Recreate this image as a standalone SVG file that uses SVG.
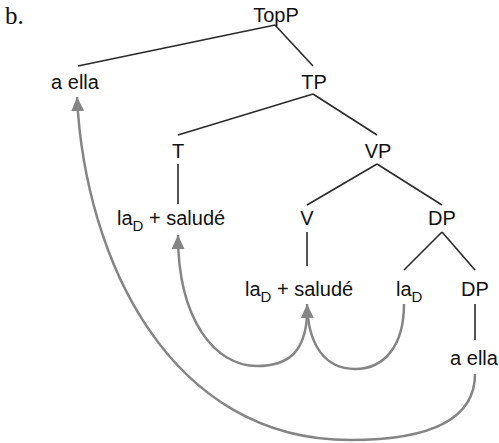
<svg xmlns="http://www.w3.org/2000/svg" width="499" height="443" viewBox="0 0 499 443">
<style>
text{font-family:"Liberation Sans",Arial,sans-serif;font-size:20px;fill:#111}
.sub{font-size:15px}
.b{font-family:"Liberation Serif","Times New Roman",serif;font-size:25px}
.edge{stroke:#2a2a2a;stroke-width:1.6;fill:none}
.move{stroke:#858585;stroke-width:2.5;fill:none;marker-end:url(#ah)}
</style>
<defs>
<marker id="ah" markerUnits="userSpaceOnUse" markerWidth="16" markerHeight="14" refX="14" refY="6.5" orient="auto">
<path d="M0,0 L14,6.5 L0,13 z" fill="#858585"/>
</marker>
</defs>
<rect width="499" height="443" fill="#fff"/>
<text class="b" x="5" y="24">b.</text>
<g id="connectors">
<line class="edge" x1="275" y1="25" x2="78" y2="66"/>
<line class="edge" x1="275" y1="25" x2="313" y2="66"/>
<line class="edge" x1="313" y1="94" x2="178" y2="135"/>
<line class="edge" x1="313" y1="94" x2="377" y2="135"/>
<line class="edge" x1="178" y1="164" x2="178" y2="204"/>
<line class="edge" x1="377" y1="164" x2="307" y2="205"/>
<line class="edge" x1="377" y1="164" x2="442" y2="205"/>
<line class="edge" x1="307" y1="232" x2="307" y2="266"/>
<line class="edge" x1="442" y1="232" x2="404" y2="270"/>
<line class="edge" x1="442" y1="232" x2="475" y2="270"/>
<line class="edge" x1="475" y1="304" x2="475" y2="340"/>
<path class="move" d="M475,374 C475,415 440,440 350,440 C170,440 85,260 77,97"/>
<path class="move" d="M307,316 C305,350 290,366 257,366 C215,366 178,320 178,235"/>
<path class="move" d="M404,304 C404,345 385,369 355,369 C325,369 308,345 307,304"/>
</g>
<g id="TopP"><text x="276" y="22" text-anchor="middle">TopP</text></g>
<g id="aella1"><text x="75" y="89" text-anchor="middle">a ella</text></g>
<g id="TP"><text x="314" y="89" text-anchor="middle">TP</text></g>
<g id="T"><text x="178" y="158" text-anchor="middle">T</text></g>
<g id="VP"><text x="378" y="158" text-anchor="middle">VP</text></g>
<g id="laSalude1"><text x="117" y="225">la<tspan class="sub" dy="6">D</tspan><tspan dy="-6"> + saludé</tspan></text></g>
<g id="V"><text x="307" y="225" text-anchor="middle">V</text></g>
<g id="DP1"><text x="442" y="225" text-anchor="middle">DP</text></g>
<g id="laSalude2"><text x="245" y="296">la<tspan class="sub" dy="6">D</tspan><tspan dy="-6"> + saludé</tspan></text></g>
<g id="laD"><text x="396" y="296">la<tspan class="sub" dy="6">D</tspan></text></g>
<g id="DP2"><text x="475" y="296" text-anchor="middle">DP</text></g>
<g id="aella2"><text x="474" y="365" text-anchor="middle">a ella</text></g>
</svg>
